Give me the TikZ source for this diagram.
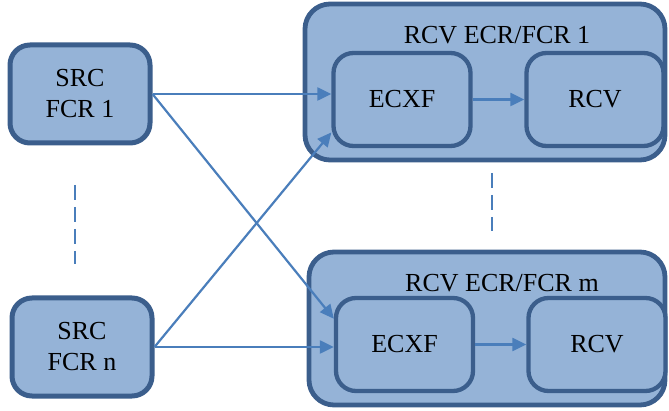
\documentclass[tikz,border=0pt]{standalone}
\usepackage{fontspec}
\setmainfont{Liberation Serif}
\usepackage{tikz}
\usetikzlibrary{arrows.meta,positioning,calc}
\definecolor{boxfill}{RGB}{149,179,215}
\definecolor{boxline}{RGB}{59,94,140}
\definecolor{linkblue}{RGB}{74,126,187}

\begin{document}
\begin{tikzpicture}[x=1pt,y=-1pt,
    every node/.style={font=\fontsize{26}{31}\selectfont},
    srcbox/.style={draw=boxline, fill=boxfill, line width=5pt, rounded corners=20pt,
        minimum width=140pt, minimum height=98pt, align=center, inner sep=0pt},
    ecrbox/.style={draw=boxline, fill=boxfill, line width=4.8pt, rounded corners=25pt, inner sep=0pt},
    fnbox/.style={draw=boxline, fill=boxfill, line width=4.3pt, rounded corners=20pt,
        minimum width=137pt, minimum height=93pt, inner sep=0pt},
    link/.style={draw=linkblue, line width=2.2pt, -{Triangle[length=14pt,width=13pt]}},
    dots/.style={draw=linkblue, line width=1.6pt, dash pattern=on 15pt off 7pt}]
    \useasboundingbox (0,0) rectangle (669,411);

    % Receiver ECR/FCR containers
    \draw[ecrbox] (305,4) rectangle (665,160);
    \node (title1) at (497,35) {RCV ECR/FCR 1};
    \draw[ecrbox] (309,252) rectangle (665,405);
    \node (titlem) at (502,283) {RCV ECR/FCR m};

    % Sources
    \node[srcbox] (src1) at (80,94) {SRC\\FCR 1};
    \node[srcbox] (srcn) at (82,347) {SRC\\FCR n};

    % Inner blocks
    \node[fnbox] (ecxf1) at (402,99.5) {ECXF};
    \node[fnbox] (rcv1) at (595,99.5) {RCV};
    \node[fnbox] (ecxfm) at (404.5,344.5) {ECXF};
    \node[fnbox] (rcvm) at (597,344.5) {RCV};

    % Links
    \draw[link] (src1.east) -- (ecxf1.west |- src1.east);
    \draw[link] (src1.east) -- (ecxfm.160);
    \draw[link] (srcn.east) -- (ecxf1.205);
    \draw[link] (srcn.east) -- (ecxfm.west |- srcn.east);
    \draw[link] (ecxf1) -- (rcv1);
    \draw[link] (ecxfm) -- (rcvm);

    % Omitted ones
    \draw[dots] (75,185) -- (75,264);
    \draw[dots] (492,173) -- (492,231);
\end{tikzpicture}
\end{document}
